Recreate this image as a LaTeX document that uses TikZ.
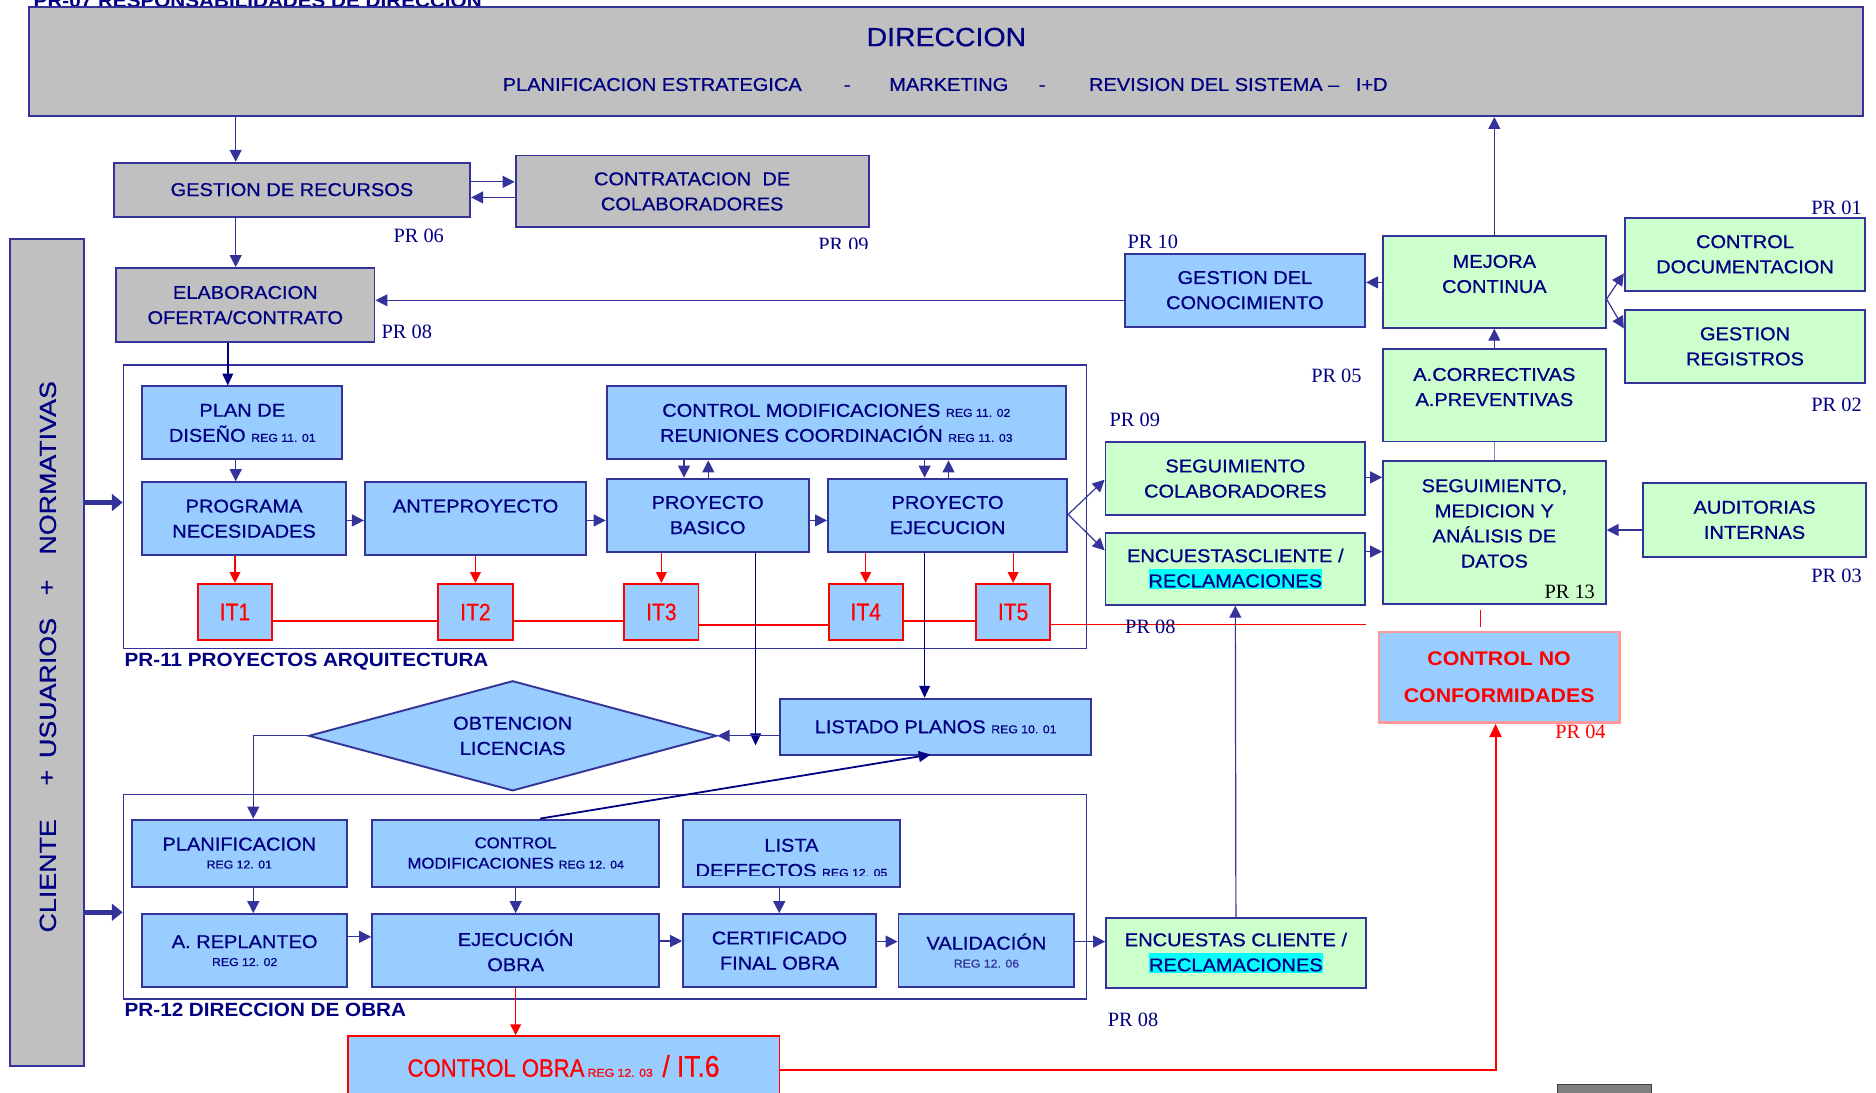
\documentclass[tikz,border=0pt]{standalone}
\usepackage{fontspec}
\setmainfont{Liberation Sans}[FakeStretch=1.08, UprightFeatures={FakeBold=0.7}]
\newfontfamily\serifpr{Liberation Serif}
\newfontfamily\narrowsans{Liberation Sans}[FakeStretch=0.88, FakeBold=0.6]
\newfontfamily\barsans{Liberation Sans}[FakeStretch=1.15, FakeBold=0.7]
\usetikzlibrary{arrows.meta,shapes.geometric}

\definecolor{txtnavy}{RGB}{0,0,128}
\definecolor{edgeblue}{RGB}{51,51,153}
\definecolor{boxgray}{RGB}{192,192,192}
\definecolor{boxblue}{RGB}{153,204,255}
\definecolor{boxgreen}{RGB}{204,255,204}
\definecolor{cncpink}{RGB}{255,153,153}
\definecolor{hlcyan}{RGB}{0,255,255}

\newcommand{\boxfont}{\fontsize{15.5}{21}\selectfont}
\newcommand{\titlefont}{\fontsize{22}{26}\selectfont}
\newcommand{\smallboxfont}{\fontsize{13}{17}\selectfont}
\newcommand{\labfont}{\fontsize{16}{19}\selectfont\bfseries}
\newcommand{\prfont}{\serifpr\fontsize{17}{19}\selectfont}
\newcommand{\itfont}{\narrowsans\fontsize{20}{22}\selectfont}
\newcommand{\barfont}{\barsans\fontsize{19.5}{22}\selectfont}
\newcommand{\cncfont}{\fontsize{16.5}{21}\selectfont\bfseries}
\newcommand{\regtag}[1]{{\fontsize{9.5}{11}\selectfont REG #1}}
\newcommand{\hilite}[1]{{\setlength{\fboxsep}{0pt}\colorbox{hlcyan}{\rule[-1.5pt]{0pt}{17pt}#1}}}

\tikzset{
  wh/.style 2 args={minimum width=#1pt, minimum height=#2pt},
  box/.style={draw=edgeblue, line width=1.6pt, inner sep=0pt, align=center, text=txtnavy, font=\boxfont},
  graybox/.style={box, fill=boxgray},
  bluebox/.style={box, fill=boxblue},
  greenbox/.style={box, fill=boxgreen},
  groupframe/.style={draw=edgeblue, line width=1pt},
  txt/.style={inner sep=0pt, align=center, text=txtnavy, font=\boxfont},
  framelab/.style={inner sep=0pt, text=txtnavy, font=\labfont},
  prlab/.style={inner sep=0pt, text=txtnavy, font=\prfont},
  bartxt/.style={inner sep=0pt, rotate=90, text=txtnavy, font=\barfont},
  itbox/.style={draw=red, line width=1.6pt, fill=boxblue, text=red, inner sep=0pt, font=\itfont, wh={62}{47}},
  arr/.style={draw=edgeblue, line width=1pt, -{Triangle[length=10pt,width=10pt]}},
  fatarr/.style={draw=edgeblue, line width=4pt, -{Triangle[length=9pt,width=14pt]}},
  navyarr/.style={draw=txtnavy, line width=1.3pt, -{Triangle[length=10pt,width=9pt]}},
  redarr/.style={draw=red, line width=1pt, -{Triangle[length=9pt,width=9pt]}},
  redline/.style={draw=red, line width=1.6pt},
}

\begin{document}
\begin{tikzpicture}[x=1pt,y=-1pt]
  \useasboundingbox (0,0) rectangle (1568,913);

  % direccion
  \node[framelab, anchor=base west] (p07) at (28,6.5) {PR-07 RESPONSABILIDADES DE DIRECCION};
  \node[graybox, wh={1533}{91}] (dir) at (790.5,51.5) {};
  \node[txt, font=\titlefont] (dirtit) at (791,31) {DIRECCION};
  \node[txt, anchor=base west] (plan) at (420,76) {PLANIFICACION ESTRATEGICA};
  \node[txt, anchor=base west] (sep1) at (705,76) {-};
  \node[txt, anchor=base west] (mkt) at (743,76) {MARKETING};
  \node[txt, anchor=base west] (sep2) at (868,76) {-};
  \node[txt, anchor=base west] (rev) at (910,76) {REVISION DEL SISTEMA –};
  \node[txt, anchor=base west] (imd) at (1133,76) {I+D};

  % recursos
  \node[graybox, wh={298}{45}] (gr) at (244,158.5) {GESTION DE RECURSOS};
  \node[graybox, wh={295}{60}] (cc) at (578.5,160) {CONTRATACION\ \ DE\\COLABORADORES};
  \node[graybox, wh={216}{62}] (eo) at (205,255) {ELABORACION\\OFERTA/CONTRATO};
  \node[prlab] (pr06) at (350,197) {PR 06};
  \begin{scope}
    \clip (650,190) rectangle (760,208);
    \node[prlab] (pr09a) at (705,205) {PR 09};
  \end{scope}
  \node[prlab] (pr08a) at (340,277) {PR 08};

  % cliente + usuarios + normativas
  \node[graybox, wh={62}{691}] (bar) at (39,545.5) {};
  \node[bartxt] (cli) at (40,732) {CLIENTE};
  \node[bartxt] (plus1) at (40,650) {+};
  \node[bartxt] (usu) at (40,575) {USUARIOS};
  \node[bartxt] (plus2) at (40,491) {+};
  \node[bartxt] (nor) at (40,391) {NORMATIVAS};

  % PR-11
  \node[groupframe, wh={805}{237}] (p11) at (505.5,423.5) {};
  \node[framelab, anchor=west] (p11lab) at (104,553) {PR-11 PROYECTOS ARQUITECTURA};
  \node[bluebox, wh={167}{61}] (pd) at (202.5,353.5) {PLAN DE\\DISEÑO \regtag{11. 01}};
  \node[bluebox, wh={170}{61}] (pn) at (204,433.5) {PROGRAMA\\NECESIDADES};
  \node[bluebox, wh={185}{61}] (an) at (397.5,433.5) {};
  \node[txt] (antxt) at ([yshift=10.5pt]an.center) {ANTEPROYECTO};
  \node[bluebox, wh={169}{61}] (pb) at (591.5,430.5) {PROYECTO\\BASICO};
  \node[bluebox, wh={200}{61}] (pe) at (792,430.5) {PROYECTO\\EJECUCION};
  \node[bluebox, wh={384}{61}] (cm) at (699,353.5) {CONTROL MODIFICACIONES \regtag{11. 02}\\REUNIONES COORDINACIÓN \regtag{11. 03}};
  \foreach \n/\x in {1/196.4,2/397.4,3/552.8,4/723.6,5/846.8}
    \node[itbox] (it\n) at (\x,511.5) {IT\n};

  \draw[arr] (dir.south -| 197,0) -- (gr.north -| 197,0);
  \draw[arr] (gr.east |- 0,152) -- (cc.west |- 0,152);
  \draw[arr] (cc.west |- 0,165) -- (gr.east |- 0,165);
  \draw[arr] (gr.south -| 197,0) -- (eo.north -| 197,0);
  \draw[navyarr] (eo.south -| 190.4,0) -- (pd.north -| 190.4,0);
  \draw[arr] (pd.south -| 197,0) -- (pn.north -| 197,0);
  \draw[arr] (pn.east |- 0,435) -- (an.west |- 0,435);
  \draw[arr] (an.east |- 0,435) -- (pb.west |- 0,435);
  \draw[arr] (pb.east |- 0,435) -- (pe.west |- 0,435);
  \draw[arr] (cm.south -| 571.7,0) -- (pb.north -| 571.7,0);
  \draw[arr] (pb.north -| 592,0) -- (cm.south -| 592,0);
  \draw[arr] (cm.south -| 772.8,0) -- (pe.north -| 772.8,0);
  \draw[arr] (pe.north -| 792.8,0) -- (cm.south -| 792.8,0);
  \draw[fatarr] (bar.east |- 0,420) -- (p11.west |- 0,420);
  \foreach \n/\src in {1/pn,2/an,3/pb,4/pe,5/pe}
    \draw[redarr] (\src.south -| it\n.north) -- (it\n.north);
  \coordinate (redend) at (1142,522);
  \draw[redline] (it1.east |- 0,519) -- (it2.west |- 0,519)
                 (it2.east |- 0,519) -- (it3.west |- 0,519)
                 (it3.east |- 0,522.5) -- (it4.west |- 0,522.5)
                 (it4.east |- 0,519) -- (it5.west |- 0,519);
  \draw[red, line width=1pt] (it5.east |- 0,522) -- (redend);

  % licencias y planos
  \node[bluebox, diamond, shape aspect=3.7, wh={341}{92}] (ol) at (428.5,615) {OBTENCION\\LICENCIAS};
  \node[bluebox, wh={260}{47}] (lp) at (782,607.5) {LISTADO PLANOS \regtag{10. 01}};
  \coordinate (pbend) at (631.5,623);
  \draw[navyarr] (pb.south -| 631.5,0) -- (pbend);
  \draw[navyarr] (pe.south -| 772.8,0) -- (lp.north -| 772.8,0);
  \draw[arr] (lp.west |- ol.east) -- (ol.east);

  % PR-12
  \node[groupframe, wh={805}{171}] (p12) at (505.5,749.5) {};
  \node[framelab, anchor=west] (p12lab) at (104,844) {PR-12 DIRECCION DE OBRA};
  \node[bluebox, wh={180}{56}] (pl) at (200,713) {PLANIFICACION\\[-6pt]\regtag{12. 01}};
  \node[bluebox, font=\smallboxfont, wh={240}{56}] (cmo) at (431,713) {CONTROL\\MODIFICACIONES \regtag{12. 04}};
  \node[bluebox, wh={181}{56}] (ld) at (661.5,713) {};
  \begin{scope}
    \clip ([yshift=10pt]ld.south west) rectangle (ld.north east);
    \node[txt] (ldtxt) at (661.5,717) {LISTA\\DEFFECTOS \regtag{12. 05}};
  \end{scope}
  \node[bluebox, wh={171}{61}] (ar) at (204.5,794.5) {A. REPLANTEO\\[-6pt]\regtag{12. 02}};
  \node[bluebox, wh={240}{61}] (eob) at (431,794.5) {EJECUCIÓN\\OBRA};
  \node[bluebox, wh={161}{61}] (cf) at (651.5,794.5) {CERTIFICADO\\FINAL OBRA};
  \node[bluebox, wh={147}{61}] (va) at (824.5,794.5) {VALIDACIÓN\\[-6pt]{\color{edgeblue}\regtag{12. 06}}};
  \node[box, draw=red, fill=boxblue, text=red, wh={361}{50}] (co) at (471,891)
    {{\narrowsans\fontsize{21}{22}\selectfont CONTROL OBRA}\,\regtag{12. 03}\hspace{8pt}{\narrowsans\fontsize{25}{26}\selectfont / IT.6}};

  \draw[arr] (ol.west) -| (pl.north -| 211.7,0);
  \draw[navyarr, line width=1.5pt, shorten >=-7pt] (cmo.north -| 451.4,0) -- (lp.south -| 771,0);
  \draw[fatarr] (bar.east |- 0,762.5) -- (p12.west |- 0,762.5);
  \draw[arr] (pl.south -| 211.7,0) -- (ar.north -| 211.7,0);
  \draw[arr] (cmo.south) -- (eob.north);
  \draw[arr] (ld.south -| 651.3,0) -- (cf.north -| 651.3,0);
  \draw[arr] (ar.east |- 0,783) -- (eob.west |- 0,783);
  \draw[arr] (eob.east |- 0,786.5) -- (cf.west |- 0,786.5);
  \draw[arr] (cf.east |- 0,787) -- (va.west |- 0,787);
  \draw[redarr] (eob.south) -- (co.north -| eob.south);

  % seguimiento y mejora
  \node[greenbox, wh={217}{58}] (ecb) at (1033,796.5) {ENCUESTAS CLIENTE /\\\hilite{RECLAMACIONES}};
  \node[prlab] (pr08c) at (947,852) {PR 08};
  \node[greenbox, wh={217}{61}] (sc) at (1032.5,400) {SEGUIMIENTO\\COLABORADORES};
  \node[prlab] (pr09b) at (948.5,351) {PR 09};
  \node[greenbox, wh={217}{60}] (ec) at (1032.5,475.5) {ENCUESTASCLIENTE /\\\hilite{RECLAMACIONES}};
  \node[prlab] (pr08b) at (961.5,523.5) {PR 08};
  \node[greenbox, wh={186}{120}] (sma) at (1249,445) {};
  \node[txt] (smatxt) at ([yshift=7.5pt]sma.center) {SEGUIMIENTO,\\MEDICION Y\\ANÁLISIS DE\\DATOS};
  \node[prlab, text=black] (pr13) at (1312,495) {PR 13};
  \node[greenbox, wh={186}{77}] (acp) at (1249,330.5) {};
  \node[txt] (acptxt) at ([yshift=7pt]acp.center) {A.CORRECTIVAS\\A.PREVENTIVAS};
  \node[prlab] (pr05) at (1117,314) {PR 05};
  \node[greenbox, wh={186}{77}] (mc) at (1249,235.5) {};
  \node[txt] (mctxt) at ([yshift=6.5pt]mc.center) {MEJORA\\CONTINUA};
  \node[bluebox, wh={201}{61}] (gc) at (1040.5,242.5) {GESTION DEL\\CONOCIMIENTO};
  \node[prlab] (pr10) at (963.5,202.5) {PR 10};
  \node[greenbox, wh={201}{61}] (cd) at (1458.5,212.5) {CONTROL\\DOCUMENTACION};
  \node[prlab] (pr01) at (1535,173.5) {PR 01};
  \node[greenbox, wh={201}{61}] (grg) at (1458.5,289.5) {GESTION\\REGISTROS};
  \node[prlab] (pr02) at (1535,338) {PR 02};
  \node[greenbox, wh={187}{62}] (ai) at (1466.5,434.5) {AUDITORIAS\\INTERNAS};
  \node[prlab] (pr03) at (1535,481) {PR 03};
  \node[box, draw=cncpink, line width=2pt, fill=boxblue, text=red, font=\cncfont, wh={201}{76}] (cnc) at (1253,566) {CONTROL NO\\[10pt]CONFORMIDADES};
  \node[prlab, text=red] (pr04) at (1321,612) {PR 04};
  \node[draw=black!75, line width=1pt, fill=black!50, anchor=north west, inner sep=0pt, wh={79}{24}] (gbx) at (1301,906) {};

  \draw[arr] (pe.east |- 0,430) -- (sc.west |- 0,401);
  \draw[arr] (pe.east |- 0,430) -- (ec.west |- 0,460);
  \draw[arr] (gc.west |- 0,251) -- (eo.east |- 0,251);
  \draw[arr] (va.east |- 0,787) -- (ecb.west |- 0,787);
  \draw[arr] (ecb.north) -- (ec.south);
  \draw[arr] (sc.east |- 0,399) -- (sma.west |- 0,399);
  \draw[arr] (ec.east |- 0,461) -- (sma.west |- 0,461);
  \draw[arr] (ai.west |- 0,443) -- (sma.east |- 0,443);
  \draw[draw=edgeblue!60, line width=0.8pt] (acp.south) -- (sma.north);
  \draw[arr] (acp.north) -- (mc.south);
  \draw[arr] (mc.north) -- (dir.south -| mc.north);
  \draw[arr] (mc.west |- 0,236) -- (gc.east |- 0,236);
  \draw[arr] (mc.east |- 0,250) -- (cd.west |- 0,228.5);
  \draw[arr] (mc.east |- 0,250) -- (grg.west |- 0,274.5);
  \coordinate (tick) at (1237,510);
  \draw[red, line width=0.8pt] (tick) -- ++(0,14);
  \draw[redline, -{Triangle[length=11pt,width=10pt]}] (co.east |- 0,894) -| (cnc.south -| 1250,0);
\end{tikzpicture}
\end{document}
